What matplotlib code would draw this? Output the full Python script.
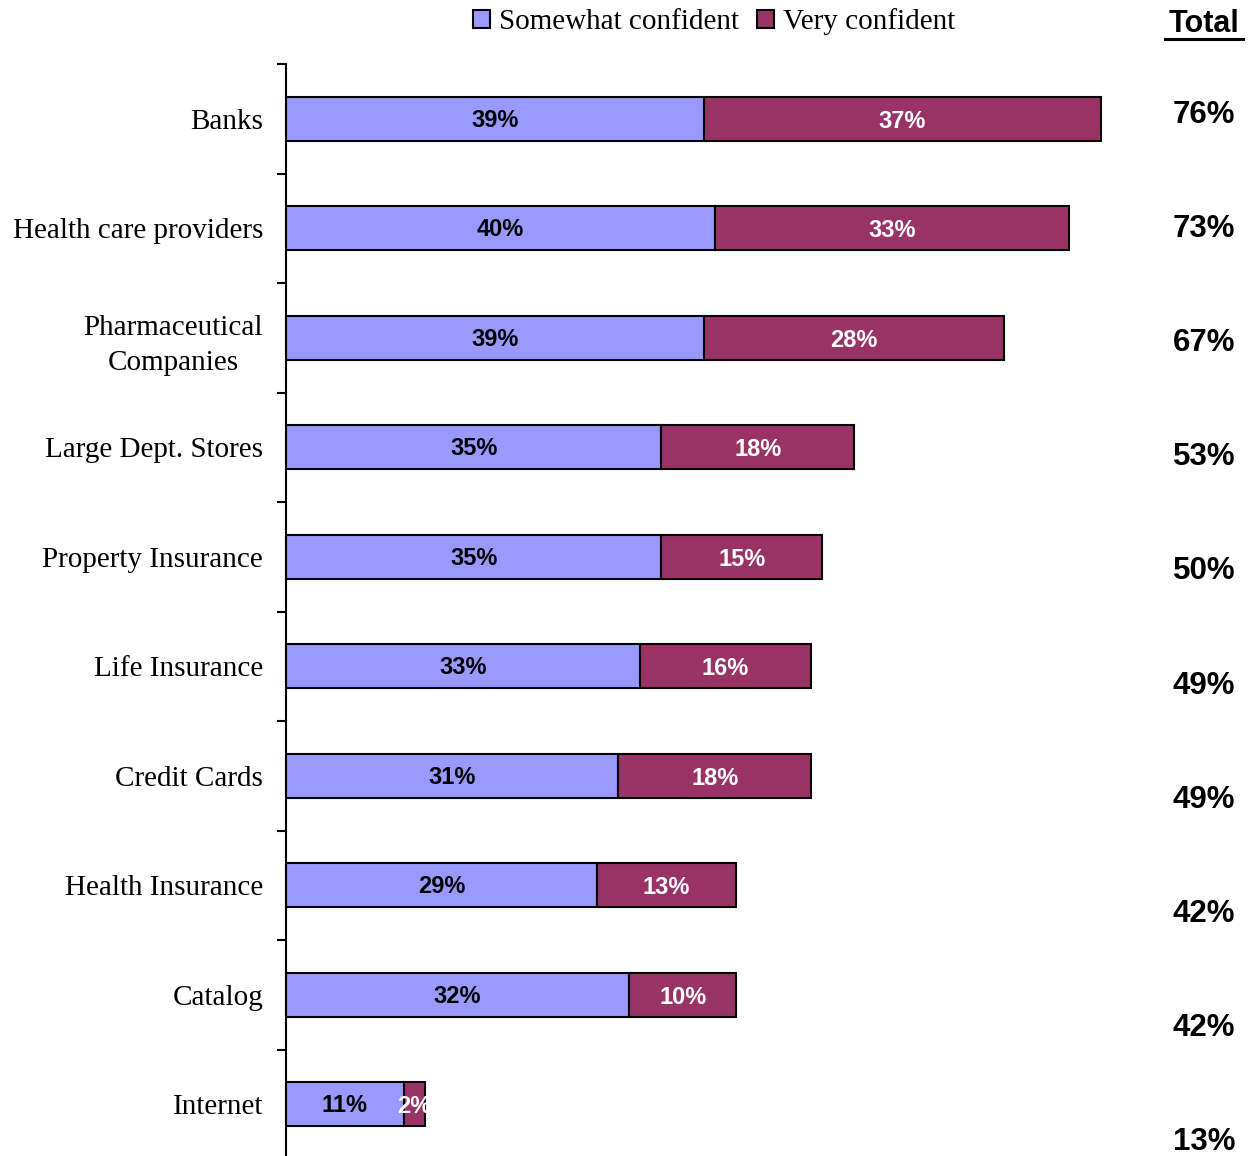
import numpy as np
import matplotlib.pyplot as plt
from matplotlib.patches import Patch
from matplotlib.lines import Line2D

categories = ["Banks", "Health care providers", "Pharmaceutical\nCompanies",
              "Large Dept. Stores", "Property Insurance", "Life Insurance",
              "Credit Cards", "Health Insurance", "Catalog", "Internet"]
somewhat = [39, 40, 39, 35, 35, 33, 31, 29, 32, 11]
very = [37, 33, 28, 18, 15, 16, 18, 13, 10, 2]
totals = [76, 73, 67, 53, 50, 49, 49, 42, 42, 13]

blue = "#9999FF"
purple = "#993366"

fig = plt.figure(figsize=(12.5, 11.56), dpi=100)
ax = fig.add_axes([286/1250, -3/1156, 965/1250, 1095/1156])

y = np.arange(len(categories))
ax.barh(y, somewhat, height=0.4, color=blue, edgecolor="black", linewidth=1.5)
ax.barh(y, very, left=somewhat, height=0.4, color=purple, edgecolor="black", linewidth=1.5)

ax.set_xlim(0, 90)
ax.set_ylim(len(categories) - 0.5, -0.5)

# segment labels
for i in range(len(categories)):
    ax.text(somewhat[i] / 2, y[i] + 0.015, f"{somewhat[i]}%", ha="center", va="center",
            fontsize=17, fontweight="bold", family="Liberation Sans", color="black")
    ax.text(somewhat[i] + very[i] / 2, y[i] + 0.025, f"{very[i]}%", ha="center", va="center",
            fontsize=17, fontweight="bold", family="Liberation Sans", color="white")

# axis styling
for s in ["top", "right", "bottom"]:
    ax.spines[s].set_visible(False)
ax.spines["left"].set_linewidth(1.5)
ax.set_xticks([])
ax.set_yticks(y)
ax.set_yticklabels(categories, family="Liberation Serif", fontsize=21,
                   multialignment="center", linespacing=1.45)
ax.tick_params(axis="y", which="major", length=0, pad=16.5)
ax.set_yticks(np.arange(-0.5, len(categories), 1.0), minor=True)
ax.tick_params(axis="y", which="minor", length=6.5, width=1.5, direction="out")

# totals column
fig.text(1204/1250, 1 - 24/1156, "Total", ha="center", va="center",
         fontsize=22, fontweight="bold", family="Liberation Sans")
fig.add_artist(Line2D([1165/1250, 1243/1250], [1 - 39/1156, 1 - 39/1156],
                      color="black", linewidth=2.2))
for i, t in enumerate(totals):
    fig.text(1204/1250, 1 - (115 + 114.1 * i)/1156, f"{t}%", ha="center", va="center",
             fontsize=22.5, fontweight="bold", family="Liberation Sans")

handles = [Patch(facecolor=blue, edgecolor="black", linewidth=1.5, label="Somewhat confident"),
           Patch(facecolor=purple, edgecolor="black", linewidth=1.5, label="Very confident")]
fig.legend(handles=handles, loc="center", bbox_to_anchor=(714/1250, 1 - 22/1156), ncol=2,
           frameon=False, prop={"family": "Liberation Serif", "size": 21},
           handlelength=0.6, handleheight=0.6, handletextpad=0.3, columnspacing=0.6)

fig.savefig("out.png", dpi=100)
